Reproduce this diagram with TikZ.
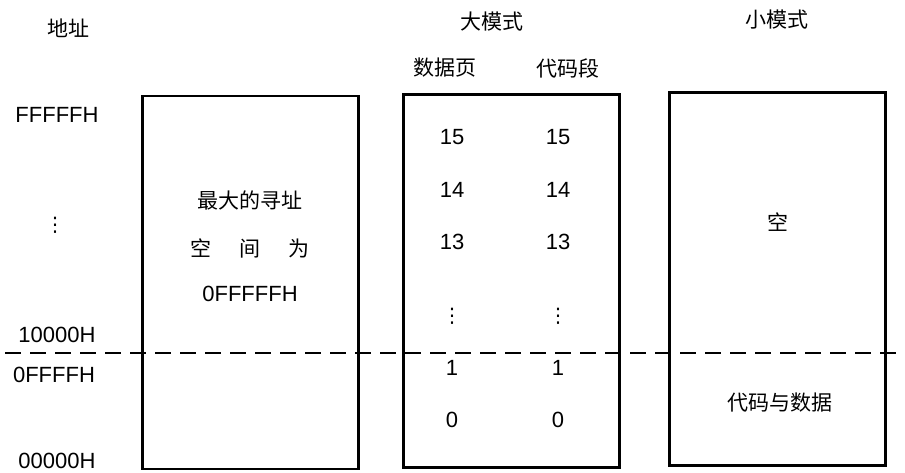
\documentclass[tikz,border=0pt]{standalone}
\usepackage{fontspec}
\setmainfont{Liberation Sans}
\newfontfamily\cjk{Noto Sans CJK SC}
\newfontfamily\symb{DejaVu Sans}
\usetikzlibrary{positioning}

\begin{document}
\begin{tikzpicture}[x=1pt,y=-1pt,thick,
		mem box/.style={draw,line width=2.4pt,minimum width=216pt,minimum height=373pt,inner sep=0pt},
		cjk label/.style={font=\cjk\fontsize{21}{21}\selectfont,inner sep=1pt},
		num label/.style={font=\fontsize{22}{22}\selectfont,inner sep=1pt},
		dots label/.style={font=\symb\fontsize{20}{20}\selectfont,inner sep=0pt},
		split line/.style={line width=1.8pt,dash pattern=on 16pt off 9pt}]
	\useasboundingbox (0,0) rectangle (905,472);
	% Headings
	\node[cjk label] (addr) at (68,28) {地址};
	\node[cjk label] (large) at (492,22) {大模式};
	\node[cjk label] (small) at (777,20) {小模式};
	\node[cjk label] (datapage) at (445,68) {数据页};
	\node[cjk label] (codeseg) at (568,68) {代码段};

	% Address column
	\node[num label] (top) at (57,115) {FFFFFH};
	\node[dots label] (adots) at (55,225) {⋮};
	\node[num label] (hi) at (57,335) {10000H};
	\node[num label] (lo) at (54,375) {0FFFFH};
	\node[num label] (bottom) at (57,461) {00000H};

	% Boxes
	\node[mem box] (space) at (250.5,282.5) {};
	\node[mem box] (largebox) at (511.5,281) {};
	\node[mem box] (smallbox) at (777.5,279) {};

	% Box texts
	\node[cjk label] (max) at (250,200) {最大的寻址};
	\node[cjk label] (maxb) at (250,248) {空\hspace{28pt}间\hspace{28pt}为};
	\node[num label] (maxc) at (250,294) {0FFFFFH};
	\foreach \n/\y in {15/137,14/190,13/242,1/368,0/420}{
		\node[num label] (d\n) at (452,\y) {\n};
		\node[num label] (c\n) at (558,\y) {\n};
	}
	\node[dots label] (ddots) at (452,316) {⋮};
	\node[dots label] (cdots) at (558,316) {⋮};
	\node[cjk label] (empty) at (778,222) {空};
	\node[cjk label] (codedata) at (780,403) {代码与数据};

	% Split line
	\coordinate (sl) at (5,353);
	\coordinate (sr) at (903,353);
	\draw[split line] (sl) -- (sr);
\end{tikzpicture}
\end{document}
